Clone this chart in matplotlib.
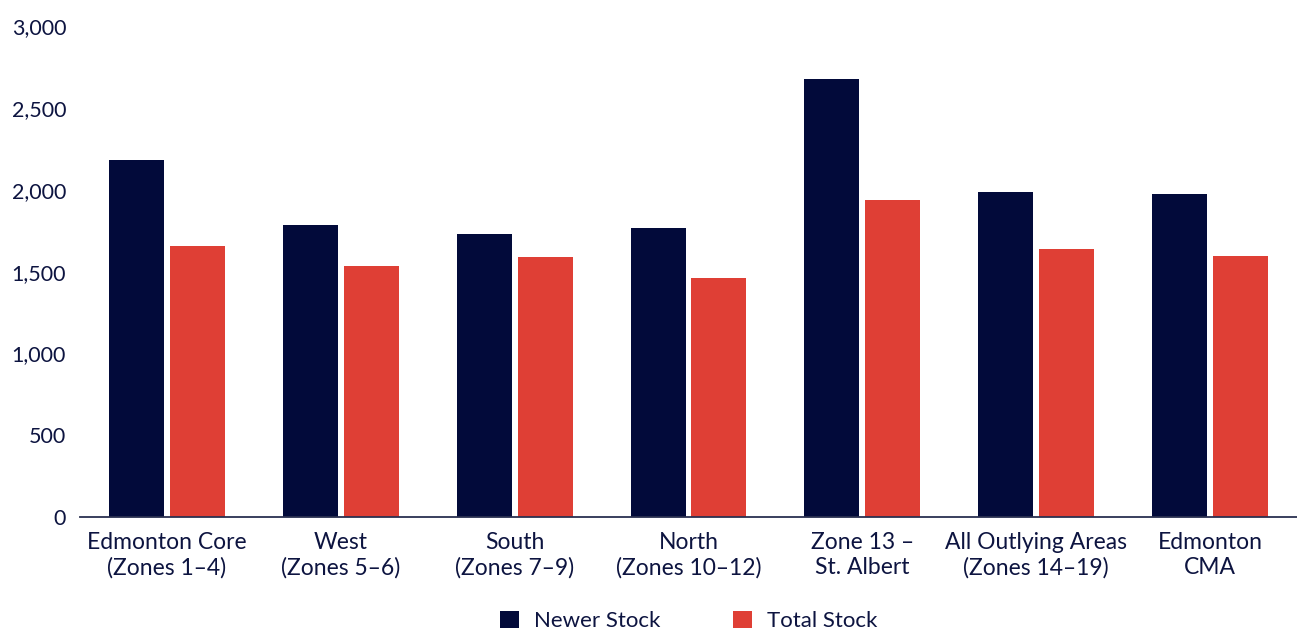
import matplotlib.pyplot as plt
import numpy as np

# Average rents by zone
categories = ["Edmonton Core\n(Zones 1–4)", "West\n(Zones 5–6)", "South\n(Zones 7–9)",
              "North\n(Zones 10–12)", "Zone 13 –\nSt. Albert", "All Outlying Areas\n(Zones 14–19)",
              "Edmonton\nCMA"]
newer_stock = [2183, 1786, 1731, 1768, 2679, 1988, 1976]
total_stock = [1657, 1535, 1590, 1462, 1939, 1639, 1596]

navy = "#020a3a"
red = "#df3f35"
text_color = "#0d1440"

plt.rcParams["font.family"] = ["Lato", "DejaVu Sans"]

fig = plt.figure(figsize=(12.97, 6.34), dpi=100)
ax = fig.add_axes([80 / 1297, 1 - 517 / 634, 1 - 80 / 1297, (517 - 26.5) / 634])

x = np.arange(len(categories))
w = 0.316
ax.bar(x - 0.175, newer_stock, width=w, color=navy, label="Newer Stock")
ax.bar(x + 0.175, total_stock, width=w, color=red, label="Total Stock")

ax.set_xlim(-0.5, len(categories) - 0.5)
ax.set_ylim(0, 3000)
ax.set_yticks(range(0, 3001, 500))
ax.yaxis.set_major_formatter(plt.FuncFormatter(lambda v, p: f"{int(v):,}"))
ax.set_xticks(x)
ax.set_xticklabels(categories, linespacing=1.2)
ax.tick_params(axis="y", length=0, labelsize=15.5, colors=text_color, pad=10)
ax.tick_params(axis="x", length=0, labelsize=16.5, colors=text_color, pad=11)

for s in ["top", "right", "left"]:
    ax.spines[s].set_visible(False)
ax.spines["bottom"].set_color("#2a3050")
ax.spines["bottom"].set_linewidth(1.3)

leg = fig.legend(loc="center", bbox_to_anchor=(0.531, 1 - 621 / 634), ncol=2, frameon=False,
                 fontsize=16, handlelength=0.85, handleheight=0.85, columnspacing=3.3,
                 handletextpad=0.65, borderpad=0.2)
for t in leg.get_texts():
    t.set_color(text_color)

fig.savefig("out.png", dpi=100)
